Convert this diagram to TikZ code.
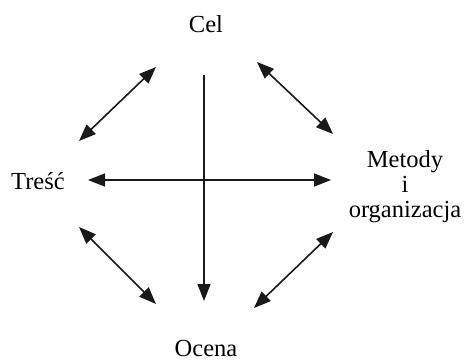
\documentclass[tikz,border=0pt]{standalone}
\usepackage{fontspec}
\setmainfont{Liberation Serif}
\usetikzlibrary{arrows.meta}
\begin{document}
\begin{tikzpicture}[x=1pt,y=-1pt,
  lbl/.style={font=\fontsize{24.5}{25}\selectfont, inner sep=0pt, align=center},
  conn/.style={line width=1.6pt, black!90},
  tip/.style={-{Triangle[length=17pt,width=13pt]}},
  tips/.style={{Triangle[length=17pt,width=13pt]}-{Triangle[length=17pt,width=13pt]}}]
\useasboundingbox (0,0) rectangle (466,360);
\node[lbl, anchor=base] (cel) at (206,32) {Cel};
\node[lbl, anchor=base] (tresc) at (38,189) {Treść};
\node[lbl] (met) at (405,187) {Metody\\i\\organizacja};
\node[lbl, anchor=base] (ocena) at (206,356) {Ocena};
\coordinate (vt) at (204,75);
\coordinate (vb) at (204,301);
\coordinate (hl) at (88,180);
\coordinate (hr) at (331,180);
\coordinate (a1) at (156,67);
\coordinate (a2) at (79,141);
\coordinate (b1) at (257,62);
\coordinate (b2) at (333,134);
\coordinate (c1) at (79,227);
\coordinate (c2) at (156,304);
\coordinate (d1) at (333,232);
\coordinate (d2) at (254,308);
\draw[conn,tip] (vt) -- (vb);
\draw[conn,tips] (hl) -- (hr);
\draw[conn,tips] (a1) -- (a2);
\draw[conn,tips] (b1) -- (b2);
\draw[conn,tips] (c1) -- (c2);
\draw[conn,tips] (d1) -- (d2);
\end{tikzpicture}
\end{document}
